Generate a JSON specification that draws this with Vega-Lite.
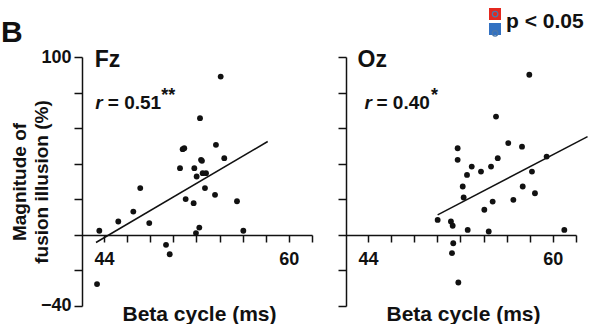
{
  "$schema": "https://vega.github.io/schema/vega-lite/v6.json",
  "background": "white",
  "padding": {"left": 1, "top": 8, "right": 0, "bottom": 0},
  "spacing": 24,
  "resolve": {
    "scale": {"color": "independent", "shape": "independent"},
    "legend": {"color": "independent", "shape": "independent"}
  },
  "config": {
    "view": {"stroke": null},
    "font": "Liberation Sans",
    "axis": {
      "grid": false,
      "domainColor": "#111111",
      "tickColor": "#111111",
      "domainWidth": 1.5,
      "tickWidth": 1.5,
      "labelFont": "Liberation Sans",
      "labelFontSize": 18,
      "labelFontWeight": "bold",
      "labelColor": "#111111",
      "titleFont": "Liberation Sans",
      "titleFontWeight": "bold",
      "titleColor": "#111111",
      "labelOverlap": false,
      "labelFlush": false
    }
  },
  "datasets": {
    "fz": [
      {"beta": 43.60, "fusion": 2.3}, {"beta": 45.24, "fusion": 7.5}, {"beta": 46.54, "fusion": 13.1},
      {"beta": 47.14, "fusion": 26.3}, {"beta": 47.92, "fusion": 6.6}, {"beta": 49.37, "fusion": -5.6},
      {"beta": 49.69, "fusion": -10.9}, {"beta": 50.58, "fusion": 37.5}, {"beta": 50.81, "fusion": 48.2},
      {"beta": 50.95, "fusion": 48.7}, {"beta": 51.07, "fusion": 20.1}, {"beta": 51.76, "fusion": 17.8},
      {"beta": 51.82, "fusion": 37.5}, {"beta": 52.02, "fusion": 32.8}, {"beta": 51.96, "fusion": 1.0},
      {"beta": 52.25, "fusion": 4.1}, {"beta": 52.31, "fusion": 65.6}, {"beta": 52.40, "fusion": 42.2},
      {"beta": 52.48, "fusion": 41.6}, {"beta": 52.54, "fusion": 34.7}, {"beta": 52.83, "fusion": 34.7},
      {"beta": 52.74, "fusion": 26.3}, {"beta": 53.61, "fusion": 22.5}, {"beta": 53.69, "fusion": 50.6},
      {"beta": 54.41, "fusion": 43.1}, {"beta": 55.51, "fusion": 18.9}, {"beta": 56.06, "fusion": 2.3},
      {"beta": 54.10, "fusion": 89.0}, {"beta": 43.40, "fusion": -27.7}
    ],
    "fzline": [{"beta": 43.31, "fusion": -4.3}, {"beta": 58.17, "fusion": 52.5}],
    "oz": [
      {"beta": 50.03, "fusion": 8.4}, {"beta": 51.18, "fusion": 7.5}, {"beta": 51.33, "fusion": 5.1},
      {"beta": 51.38, "fusion": -4.7}, {"beta": 51.27, "fusion": -10.3}, {"beta": 51.82, "fusion": -26.8},
      {"beta": 51.76, "fusion": 48.7}, {"beta": 51.76, "fusion": 42.2}, {"beta": 52.20, "fusion": 27.2},
      {"beta": 52.28, "fusion": 21.0}, {"beta": 52.57, "fusion": 33.7}, {"beta": 52.63, "fusion": 2.8},
      {"beta": 52.98, "fusion": 38.4}, {"beta": 53.78, "fusion": 35.6}, {"beta": 54.07, "fusion": 14.1},
      {"beta": 54.45, "fusion": 1.9}, {"beta": 54.65, "fusion": 38.4}, {"beta": 54.79, "fusion": 18.7},
      {"beta": 55.08, "fusion": 66.5}, {"beta": 55.23, "fusion": 43.1}, {"beta": 56.14, "fusion": 51.6},
      {"beta": 56.58, "fusion": 19.7}, {"beta": 57.33, "fusion": 49.6}, {"beta": 57.39, "fusion": 27.2},
      {"beta": 57.96, "fusion": 90.0}, {"beta": 58.19, "fusion": 35.6}, {"beta": 58.45, "fusion": 23.4},
      {"beta": 59.46, "fusion": 44.0}, {"beta": 60.99, "fusion": 2.8}
    ],
    "ozline": [{"beta": 50.03, "fusion": 11.2}, {"beta": 63.0, "fusion": 55.2}],
    "legsq": [{"k": "sig"}, {"k": "ns"}],
    "legdot": [{"k2": "dot_sig"}, {"k2": "dot_ns"}]
  },
  "hconcat": [
    {
      "width": 230,
      "height": 249,
      "layer": [
        {
          "data": {"name": "fz"},
          "mark": {"type": "circle", "size": 34, "color": "#111111", "opacity": 1},
          "encoding": {
            "x": {
              "field": "beta", "type": "quantitative",
              "scale": {"domain": [42.1, 62.001], "nice": false, "zero": false},
              "axis": {
                "values": [44, 46, 48, 50, 52, 54, 56, 58, 60, 62],
                "tickCount": 30,
                "format": "d",
                "labelExpr": "datum.value == 44 || datum.value == 60 ? datum.label : ''",
                "labelOverlap": false,
                "offset": -71, "tickSize": 7, "labelPadding": 8,
                "title": "Beta cycle (ms)", "titleFontSize": 21, "titleX": 117, "titleY": 85,
                "titleAlign": "center", "titleBaseline": "alphabetic"
              }
            },
            "y": {
              "field": "fusion", "type": "quantitative",
              "scale": {"domain": [-40.001, 100.001], "nice": false, "zero": false},
              "axis": {
                "values": [-40, -20, 0, 20, 40, 60, 80, 100],
                "tickCount": 30,
                "format": "d",
                "labelOpacity": {"condition": {"test": "datum.value > 99 || datum.value < -39", "value": 1}, "value": 0},
                "labelOverlap": false,
                "tickSize": 8, "labelPadding": 3,
                "title": ["Magnitude of", "fusion illusion (%)"], "titleFontSize": 19, "titleLineHeight": 22,
                "titleX": -72, "titleY": 124.5, "titleAlign": "center", "titleBaseline": "top", "titleAngle": -90
              }
            }
          }
        },
        {
          "data": {"name": "fzline"},
          "mark": {"type": "line", "color": "#111111", "strokeWidth": 1.5},
          "encoding": {"x": {"field": "beta", "type": "quantitative"}, "y": {"field": "fusion", "type": "quantitative"}}
        },
        {
          "data": {"values": [{}]},
          "mark": {"type": "text", "text": "B", "align": "left", "baseline": "alphabetic", "fontSize": 30, "fontWeight": "bold", "color": "#111111"},
          "encoding": {"x": {"datum": 35.1}, "y": {"datum": 108.3}}
        },
        {
          "data": {"values": [{}]},
          "mark": {"type": "text", "text": "Fz", "align": "left", "baseline": "alphabetic", "fontSize": 23, "fontWeight": "bold", "color": "#111111"},
          "encoding": {"x": {"datum": 43.2}, "y": {"datum": 94.5}}
        },
        {
          "data": {"values": [{}]},
          "mark": {"type": "text", "text": "r", "align": "left", "baseline": "alphabetic", "fontSize": 19, "fontWeight": "bold", "fontStyle": "italic", "color": "#111111"},
          "encoding": {"x": {"datum": 43.25}, "y": {"datum": 71}}
        },
        {
          "data": {"values": [{}]},
          "mark": {"type": "text", "text": "= 0.51", "align": "left", "baseline": "alphabetic", "fontSize": 19, "fontWeight": "bold", "color": "#111111", "dx": 12.5},
          "encoding": {"x": {"datum": 43.25}, "y": {"datum": 71}}
        },
        {
          "data": {"values": [{}]},
          "mark": {"type": "text", "text": "**", "align": "left", "baseline": "alphabetic", "fontSize": 18, "fontWeight": "bold", "color": "#111111", "dx": 66, "dy": -8},
          "encoding": {"x": {"datum": 43.25}, "y": {"datum": 71}}
        }
      ]
    },
    {
      "width": 230,
      "height": 249,
      "layer": [
        {
          "data": {"name": "oz"},
          "mark": {"type": "circle", "size": 34, "color": "#111111", "opacity": 1},
          "encoding": {
            "x": {
              "field": "beta", "type": "quantitative",
              "scale": {"domain": [42.1, 62.001], "nice": false, "zero": false},
              "axis": {
                "values": [44, 46, 48, 50, 52, 54, 56, 58, 60, 62],
                "tickCount": 30,
                "format": "d",
                "labelExpr": "datum.value == 44 || datum.value == 60 ? datum.label : ''",
                "labelOverlap": false,
                "offset": -71, "tickSize": 7, "labelPadding": 8,
                "title": "Beta cycle (ms)", "titleFontSize": 21, "titleX": 117, "titleY": 85,
                "titleAlign": "center", "titleBaseline": "alphabetic"
              }
            },
            "y": {
              "field": "fusion", "type": "quantitative",
              "scale": {"domain": [-40.001, 100.001], "nice": false, "zero": false},
              "axis": {
                "values": [-40, -20, 0, 20, 40, 60, 80, 100],
                "tickCount": 30,
                "labels": false, "tickSize": 8, "title": null
              }
            }
          }
        },
        {
          "data": {"name": "ozline"},
          "mark": {"type": "line", "color": "#111111", "strokeWidth": 1.5},
          "encoding": {"x": {"field": "beta", "type": "quantitative"}, "y": {"field": "fusion", "type": "quantitative"}}
        },
        {
          "data": {"values": [{}]},
          "mark": {"type": "text", "text": "Oz", "align": "left", "baseline": "alphabetic", "fontSize": 23, "fontWeight": "bold", "color": "#111111"},
          "encoding": {"x": {"datum": 43.1}, "y": {"datum": 94.5}}
        },
        {
          "data": {"values": [{}]},
          "mark": {"type": "text", "text": "r", "align": "left", "baseline": "alphabetic", "fontSize": 19, "fontWeight": "bold", "fontStyle": "italic", "color": "#111111"},
          "encoding": {"x": {"datum": 43.7}, "y": {"datum": 71}}
        },
        {
          "data": {"values": [{}]},
          "mark": {"type": "text", "text": "= 0.40", "align": "left", "baseline": "alphabetic", "fontSize": 19, "fontWeight": "bold", "color": "#111111", "dx": 12},
          "encoding": {"x": {"datum": 43.7}, "y": {"datum": 71}}
        },
        {
          "data": {"values": [{}]},
          "mark": {"type": "text", "text": "*", "align": "left", "baseline": "alphabetic", "fontSize": 18, "fontWeight": "bold", "color": "#111111", "dx": 66.5, "dy": -8},
          "encoding": {"x": {"datum": 43.7}, "y": {"datum": 71}}
        },
        {
          "data": {"name": "legsq"},
          "transform": [{"filter": "false"}],
          "mark": {"type": "square", "filled": true},
          "encoding": {
            "color": {
              "field": "k", "type": "nominal",
              "scale": {"domain": ["sig", "ns"], "range": ["#e4281f", "#3271c2"]},
              "legend": {
                "orient": "none", "legendX": 143, "legendY": -49, "padding": 0,
                "title": "p < 0.05", "titleOrient": "right", "titleFontSize": 21, "titleFont": "Liberation Sans",
                "titleFontWeight": "bold", "titleColor": "#111111", "titlePadding": 5,
                "labelExpr": "''", "labelFontSize": 1, "labelOffset": 0,
                "symbolType": "square", "symbolSize": 144, "symbolStrokeWidth": 0, "symbolOpacity": 1,
                "rowPadding": 3
              }
            }
          }
        },
        {
          "data": {"name": "legdot"},
          "transform": [{"filter": "false"}],
          "mark": {"type": "point"},
          "encoding": {
            "shape": {
              "field": "k2", "type": "nominal",
              "scale": {"domain": ["dot_sig", "dot_ns"], "range": ["circle", "circle"]},
              "legend": {
                "orient": "none", "legendX": 145.6, "legendY": -46.4, "padding": 0, "title": null,
                "labelExpr": "''", "labelFontSize": 1, "labelOffset": 0,
                "symbolSize": 30, "symbolStrokeWidth": 1.3, "symbolOpacity": 1,
                "rowPadding": 8.2,
                "encode": {
                  "symbols": {
                    "update": {
                      "fill": {"signal": "datum.value === 'dot_sig' ? '#111111' : '#3271c2'"},
                      "stroke": {"signal": "datum.value === 'dot_sig' ? '#111111' : '#ffffff'"},
                      "fillOpacity": {"value": 1},
                      "strokeOpacity": {"value": 1}
                    }
                  }
                }
              }
            }
          }
        }
      ]
    }
  ]
}
